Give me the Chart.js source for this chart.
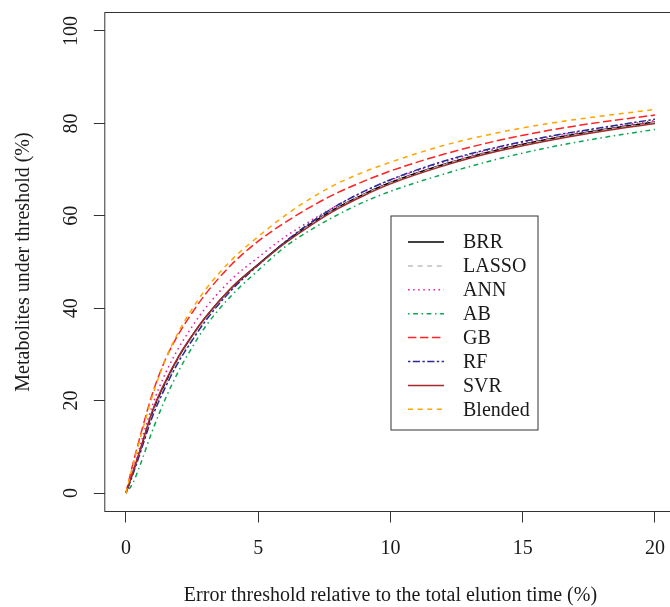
<!DOCTYPE html>
<html>
<head>
<meta charset="utf-8">
<script src="https://cdn.jsdelivr.net/npm/chart.js@4.4.1/dist/chart.umd.min.js"></script>
<style>
  html, body { margin: 0; padding: 0; background: #fff; overflow: hidden; }
  #wrap { width: 680px; height: 607px; }
</style>
</head>
<body>
<div id="wrap"><canvas id="lineChart1" width="680" height="607"></canvas></div>
<script>
// x values: error threshold (% of total elution time)
const errorThreshold = [0, 0.25, 0.5, 1, 1.5, 2, 2.5, 3, 4, 5, 6, 7, 8, 9, 10, 12, 14, 16, 18, 20];

// % metabolites under threshold, one array per model
const brr     = [0, 4.2, 8.5, 17.5, 24, 29.5, 34, 38, 44.5, 49.5, 54.2, 58.3, 61.8, 64.7, 67.2, 71.1, 74.2, 76.6, 78.6, 80.3];
const lasso   = [0, 4, 8.2, 17, 23.5, 29, 33.5, 37.6, 44.2, 49.3, 54, 58.2, 61.7, 64.6, 67.1, 71, 74.1, 76.5, 78.5, 80.2];
const ann     = [0, 4.8, 9.5, 19, 26, 31.5, 36, 40, 46.3, 51, 55.4, 59, 62.3, 65.2, 67.7, 71.6, 74.6, 77, 79, 80.6];
const ab      = [0, 2, 5.5, 13.5, 20.5, 26.5, 31.5, 36, 42.8, 48.2, 53.2, 57, 60.2, 63, 65.3, 69, 72.2, 74.8, 76.9, 78.7];
const gb      = [0, 6, 11.5, 21.5, 29, 34.5, 39, 43, 49.5, 54.5, 58.5, 62, 65, 67.5, 69.7, 73.3, 76.2, 78.5, 80.3, 81.8];
const rf      = [0, 3.8, 8, 16.5, 23, 28.5, 33, 37.2, 44, 49.3, 54.3, 58.6, 62.3, 65.3, 67.8, 71.8, 74.8, 77.2, 79.1, 80.9];
const svr     = [0, 4.3, 8.7, 17.8, 24.3, 29.7, 34.1, 38, 44.5, 49.4, 54, 58, 61.5, 64.4, 66.9, 70.8, 73.9, 76.3, 78.3, 80.0];
const blended = [0, 5.8, 11, 21, 29, 35, 39.8, 44, 50.5, 55.5, 60, 63.8, 67, 69.5, 71.6, 75.2, 77.9, 80, 81.6, 83];

const seriesNames = ['BRR', 'LASSO', 'ANN', 'AB', 'GB', 'RF', 'SVR', 'Blended'];
const seriesData  = [brr, lasso, ann, ab, gb, rf, svr, blended];

// tick labels
const xTicks = [0, 5, 10, 15, 20];
const yTicks = [0, 20, 40, 60, 80, 100];

const serif = "'Liberation Serif', 'Times New Roman', serif";
const textColor = '#1a1a1a';

// R-like line types
const styles = [
  { color: '#000000', dash: [] },                 // solid
  { color: '#bebebe', dash: [5, 4.6] },           // dashed
  { color: '#f0169c', dash: [1.5, 3.6] },         // dotted
  { color: '#0aa552', dash: [1.5, 3.6, 4.8, 3.6] }, // dotdash
  { color: '#ff2222', dash: [8.4, 3.6] },         // longdash
  { color: '#2a2a9a', dash: [2.4, 2.4, 7.2, 2.4] }, // twodash
  { color: '#a52a2a', dash: [] },                 // solid
  { color: '#ffa500', dash: [5, 4.6] }            // dashed
];

const datasets = seriesNames.map((name, i) => ({
  label: name,
  data: seriesData[i].map((v, j) => ({ x: errorThreshold[j], y: v })),
  borderColor: styles[i].color,
  borderDash: styles[i].dash,
  borderWidth: 1.5,
  borderCapStyle: 'butt',
  pointRadius: 0,
  fill: false,
  cubicInterpolationMode: 'monotone',
  order: seriesNames.length - i   // later series on top, like R
}));

// box around plot, rotated y tick labels, legend
const rStyle = {
  id: 'rStyle',
  afterDraw(chart) {
    const ctx = chart.ctx;
    const a = chart.chartArea;
    const yScale = chart.scales.y;
    ctx.save();
    ctx.strokeStyle = '#333';
    ctx.lineWidth = 1;
    ctx.strokeRect(a.left, a.top, a.right - a.left, a.bottom - a.top);

    // y tick labels, rotated like R
    ctx.fillStyle = textColor;
    ctx.font = '20px ' + serif;
    ctx.textAlign = 'center';
    ctx.textBaseline = 'alphabetic';
    yTicks.forEach(v => {
      const py = yScale.getPixelForValue(v);
      ctx.save();
      ctx.translate(77, py);
      ctx.rotate(-Math.PI / 2);
      ctx.fillText(String(v), 0, 0);
      ctx.restore();
    });

    // legend
    const lx = 391, ly = 216, lw = 147, lh = 214;
    ctx.strokeStyle = '#333';
    ctx.strokeRect(lx, ly, lw, lh);
    ctx.textAlign = 'left';
    ctx.textBaseline = 'middle';
    chart.data.datasets.forEach((ds, i) => {
      const y = ly + 26 + i * 23.9;
      ctx.save();
      ctx.strokeStyle = ds.borderColor;
      ctx.lineWidth = ds.borderWidth;
      ctx.setLineDash(ds.borderDash);
      ctx.beginPath();
      ctx.moveTo(lx + 17, y);
      ctx.lineTo(lx + 53, y);
      ctx.stroke();
      ctx.restore();
      ctx.fillStyle = textColor;
      ctx.fillText(ds.label, lx + 72, y + 1);
    });
    ctx.restore();
  }
};

const myChart = new Chart(document.getElementById('lineChart1'), {
  type: 'line',
  data: { datasets: datasets },
  options: {
    responsive: false,
    animation: false,
    layout: { padding: { top: 12.5, right: 3.9, left: 0, bottom: 0 } },
    plugins: {
      legend: { display: false },
      tooltip: { enabled: false }
    },
    scales: {
      x: {
        type: 'linear',
        min: -0.8,
        max: 20.8,
        afterBuildTicks: s => { s.ticks = xTicks.map(v => ({ value: v })); },
        afterFit: s => { s.height = 95.5; },
        ticks: {
          includeBounds: false,
          autoSkip: false,
          maxRotation: 0,
          padding: 14,
          color: textColor,
          font: { family: serif, size: 20 }
        },
        grid: {
          drawOnChartArea: false,
          drawTicks: true,
          tickLength: 11,
          tickColor: '#333',
          tickWidth: 1
        },
        border: { display: false },
        title: {
          display: true,
          text: 'Error threshold relative to the total elution time (%)',
          color: textColor,
          font: { family: serif, size: 20 },
          padding: { top: 0, bottom: -1 }
        }
      },
      y: {
        type: 'linear',
        min: -4,
        max: 104,
        afterBuildTicks: s => { s.ticks = yTicks.map(v => ({ value: v })); },
        afterFit: s => { s.width = 104.8; },
        ticks: { display: false, includeBounds: false },
        grid: {
          drawOnChartArea: false,
          drawTicks: true,
          tickLength: 11,
          tickColor: '#333',
          tickWidth: 1
        },
        border: { display: false },
        title: {
          display: true,
          text: 'Metabolites under threshold (%)',
          color: textColor,
          font: { family: serif, size: 20 },
          padding: { top: 12, bottom: 0 }
        }
      }
    }
  },
  plugins: [rStyle]
});
</script>
</body>
</html>
